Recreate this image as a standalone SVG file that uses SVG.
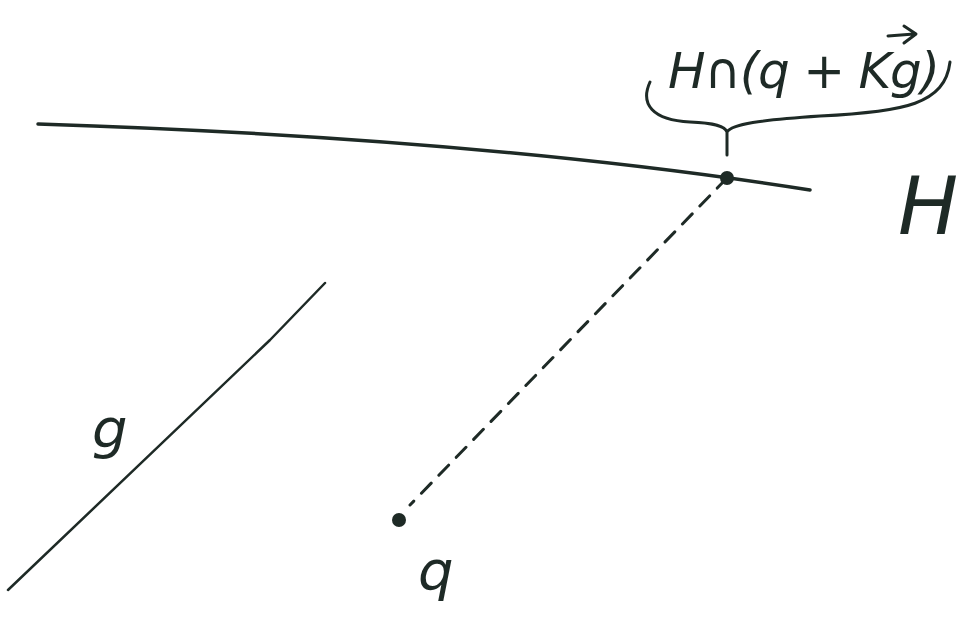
<svg xmlns="http://www.w3.org/2000/svg" width="959" height="624" viewBox="0 0 959 624">
<style>
.ln{fill:none;stroke:#1e2a26;stroke-linecap:round;stroke-linejoin:round}
.t{font-family:"DejaVu Sans",sans-serif;font-style:oblique;fill:#1e2a26}
</style>
<rect width="959" height="624" fill="#ffffff"/>
<g id="connectors">
<path class="ln" d="M38,124 Q 480,138 810,190" stroke-width="3.5"/>
<path class="ln" d="M8,590 L270,340 L325,283" stroke-width="2.5"/>
<path class="ln" d="M727,178 L410,505" stroke-width="3" stroke-dasharray="14,11"/>
</g>
<g id="H">
<text class="t" x="898" y="234" font-size="80">H</text>
</g>
<g id="intersection">
<circle cx="727" cy="178" r="7" fill="#1e2a26"/>
<path class="ln" d="M650,82 C640,104 652,120 690,122 C715,123 725,126 727,132 L727,155 M727,132 C732,124 760,120 820,116 C905,112 945,104 950,62" stroke-width="3"/>
<text class="t" x="668" y="88" font-size="50" textLength="272">H∩(q + Kg)</text>
<path class="ln" d="M888,36 L914,34 M904,26 L916,34 L904,43" stroke-width="3"/>
</g>
<g id="q">
<circle cx="399" cy="520" r="7" fill="#1e2a26"/>
<text class="t" x="418" y="590" font-size="56">q</text>
</g>
<g id="g">
<text class="t" x="92" y="448" font-size="56">g</text>
</g>
</svg>
